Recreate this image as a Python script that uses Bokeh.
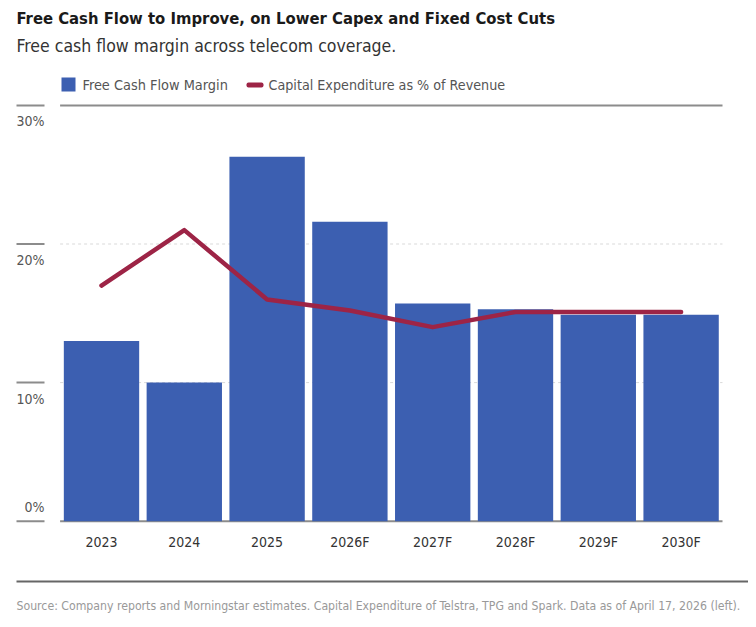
from bokeh.embed import file_html
from bokeh.models import BoxAnnotation, ColumnDataSource, Label, Range1d
from bokeh.plotting import figure
from bokeh.resources import INLINE

years = ['2023', '2024', '2025', '2026F', '2027F', '2028F', '2029F', '2030F']
fcf_margin = [13.0, 10.0, 26.3, 21.6, 15.7, 15.3, 14.9, 14.9]
capex_pct = [17.0, 21.0, 16.0, 15.2, 14.0, 15.1, 15.1, 15.1]
y_ticks = [0, 10, 20, 30]
y_tick_labels = ['0%', '10%', '20%', '30%']

TITLE = 'Free Cash Flow to Improve, on Lower Capex and Fixed Cost Cuts'
SUBTITLE = 'Free cash flow margin across telecom coverage.'
LEGEND_FCF = 'Free Cash Flow Margin'
LEGEND_CAPEX = 'Capital Expenditure as % of Revenue'
SOURCE = ('Source: Company reports and Morningstar estimates. Capital Expenditure '
          'of Telstra, TPG and Spark. Data as of April 17, 2026 (left).')

FONT = "'DejaVu Sans Condensed', 'DejaVu Sans', sans-serif"
BLUE = '#3c5fb1'
RED = '#9d2446'

W, H = 748, 619
# the frame fills the whole canvas; one category slot is 82.8 px, 1% is 13.86 px
SLOT_PX, FIRST_PX = 82.8, 101.0
PCT_PX, ZERO_PX = 13.86, 520.7


def slot(px):
    return (px - FIRST_PX) / SLOT_PX


n = len(years)
source = ColumnDataSource(data={
    'idx': list(range(n)),
    'years': years,
    'fcf': fcf_margin,
    'capex': capex_pct,
})

p = figure(width=W, height=H, output_backend="svg", toolbar_location=None,
           x_range=Range1d(slot(0), slot(W)),
           y_range=Range1d(-(H - ZERO_PX) / PCT_PX, ZERO_PX / PCT_PX),
           x_axis_location=None, y_axis_location=None, min_border=0)
p.outline_line_color = None
p.grid.grid_line_color = None

# grid lines
for t in y_ticks:
    solid = t in (y_ticks[0], y_ticks[-1])
    p.segment(x0=-0.5, x1=n - 0.5, y0=t, y1=t,
              line_color='#8c8c8c' if solid else '#d9d9d9',
              line_width=2 if solid else 1,
              line_dash='solid' if solid else '3 3')
    # short tick mark on the left
    p.segment(x0=slot(16), x1=slot(44), y0=t, y1=t,
              line_color='#8c8c8c', line_width=2)

p.vbar(x='idx', top='fcf', width=0.91, source=source,
       fill_color=BLUE, line_color=None)
p.line(x='idx', y='capex', source=source, line_color=RED,
       line_width=4.5, line_cap='round', line_join='round')

# category labels under the bars
p.text(x='idx', y=0, text='years', source=source, y_offset=21,
       text_align='center', text_baseline='middle',
       text_font={'value': FONT}, text_font_size='14px', text_color='#333333')

for t, lab in zip(y_ticks, y_tick_labels):
    p.add_layout(Label(x=44, x_units='canvas', y=t, text=lab,
                       y_offset=14 if t == 0 else -16,
                       text_align='right', text_baseline='middle',
                       text_font=FONT, text_font_size='14px',
                       text_color='#555555'))


def canvas_label(x, y, text, size, color, bold=False):
    p.add_layout(Label(x=x, y=y, x_units='canvas', y_units='canvas', text=text,
                       text_baseline='middle', text_font=FONT,
                       text_font_style='bold' if bold else 'normal',
                       text_font_size=size, text_color=color))


def canvas_box(left, right, top, bottom, color, radius=0):
    p.add_layout(BoxAnnotation(left=left, right=right, top=top, bottom=bottom,
                               left_units='canvas', right_units='canvas',
                               top_units='canvas', bottom_units='canvas',
                               fill_color=color, fill_alpha=1, line_color=None,
                               border_radius=radius))


canvas_label(16, 18, TITLE, '16.5px', '#1a1a1a', bold=True)
canvas_label(16, 45, SUBTITLE, '17.5px', '#333333')

# legend
canvas_box(61, 75, 77, 91, BLUE)
canvas_label(82, 84, LEGEND_FCF, '14.4px', '#555555')
canvas_box(246, 263, 82, 87, RED, radius=2)
canvas_label(268, 84, LEGEND_CAPEX, '14.2px', '#555555')

# footer
canvas_box(16, 750, 580, 582, '#666666')
canvas_label(16, 605, SOURCE, '12.2px', '#999999')

open("out.html", "w").write(file_html(p, INLINE))
